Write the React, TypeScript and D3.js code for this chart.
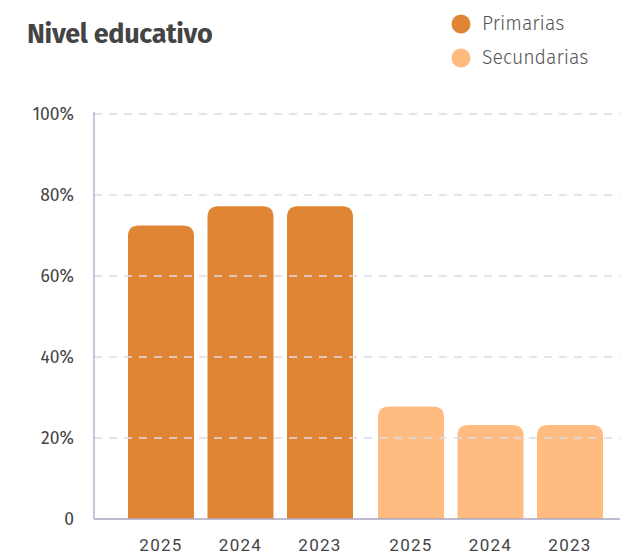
import React from "react";
import * as d3 from "d3";

const groups = ["Primarias", "Secundarias"];
const years = ["2025", "2024", "2023"];
const primarias = [72.5, 77.2, 77.2];
const secundarias = [27.8, 23.2, 23.2];
const yTicks = [0, 20, 40, 60, 80, 100];
const colors = ["#E08534", "#FFBB80"];

const W = 620, H = 556;
const x0 = 94, xEnd = 620;
const yTop = 114, yBot = 519;

function topRounded(x: number, y: number, w: number, h: number, r: number) {
  const rr = Math.min(r, h, w / 2);
  return `M${x},${y + h}V${y + rr}Q${x},${y} ${x + rr},${y}H${x + w - rr}Q${x + w},${y} ${x + w},${y + rr}V${y + h}Z`;
}

export default function App() {
  const series = [primarias, secundarias];
  const gx = d3.scaleBand<string>().domain(groups).range([115.5, 615.5]).paddingInner(0.1).paddingOuter(0.05);
  const bx = d3.scaleBand<string>().domain(years).range([0, gx.bandwidth()]).paddingInner(0.17);
  const y = d3.scaleLinear().domain([0, 100]).range([yBot, yTop]);
  const fmt = (v: number) => (v === 0 ? "0" : `${v}%`);

  return (
    <svg width={W} height={H} style={{ position: "absolute", left: 0, top: 0 }}>
      <rect width={W} height={H} fill="#fff" />
      <text x={27} y={43} fontFamily="'Fira Sans','Open Sans',sans-serif" fontWeight={700} fontSize={27} fill="#444" letterSpacing={-0.3}>
        Nivel educativo
      </text>
      {groups.map((g, i) => (
        <g key={g}>
          <circle cx={461} cy={24 + i * 34} r={9.5} fill={colors[i]} />
          <text x={482} y={30 + i * 34} fontFamily="'Fira Sans','Open Sans',sans-serif" fontWeight={300} fontSize={19.5} fill="#555">
            {g}
          </text>
        </g>
      ))}
      {groups.map((g, gi) =>
        years.map((yr, i) => {
          const v = series[gi][i];
          const xx = (gx(g) as number) + (bx(yr) as number);
          const yy = y(v);
          return <path key={g + yr} d={topRounded(xx, yy, bx.bandwidth(), yBot - yy, 11)} fill={colors[gi]} />;
        })
      )}
      {yTicks.filter((t) => t > 0).map((t) => (
        <line key={t} x1={x0} x2={xEnd} y1={y(t)} y2={y(t)} stroke="#dcdae8" strokeWidth={1.3} strokeDasharray="8 7" />
      ))}
      {yTicks.map((t) => (
        <text key={t} x={74} y={y(t)} dy="0.35em" textAnchor="end" fontFamily="'Fira Sans','Open Sans',sans-serif" fontSize={17.5} fill="#444">
          {fmt(t)}
        </text>
      ))}
      <line x1={x0} x2={x0} y1={yTop - 2} y2={yBot} stroke="#aaa6c2" strokeWidth={1.3} />
      <line x1={x0} x2={xEnd} y1={yBot} y2={yBot} stroke="#aaa6c2" strokeWidth={1.3} />
      {groups.map((g) =>
        years.map((yr) => (
          <text key={g + yr} x={(gx(g) as number) + (bx(yr) as number) + bx.bandwidth() / 2} y={551} textAnchor="middle" fontFamily="Roboto, sans-serif" fontSize={17} fill="#444" letterSpacing={1.3}>
            {yr}
          </text>
        ))
      )}
    </svg>
  );
}
